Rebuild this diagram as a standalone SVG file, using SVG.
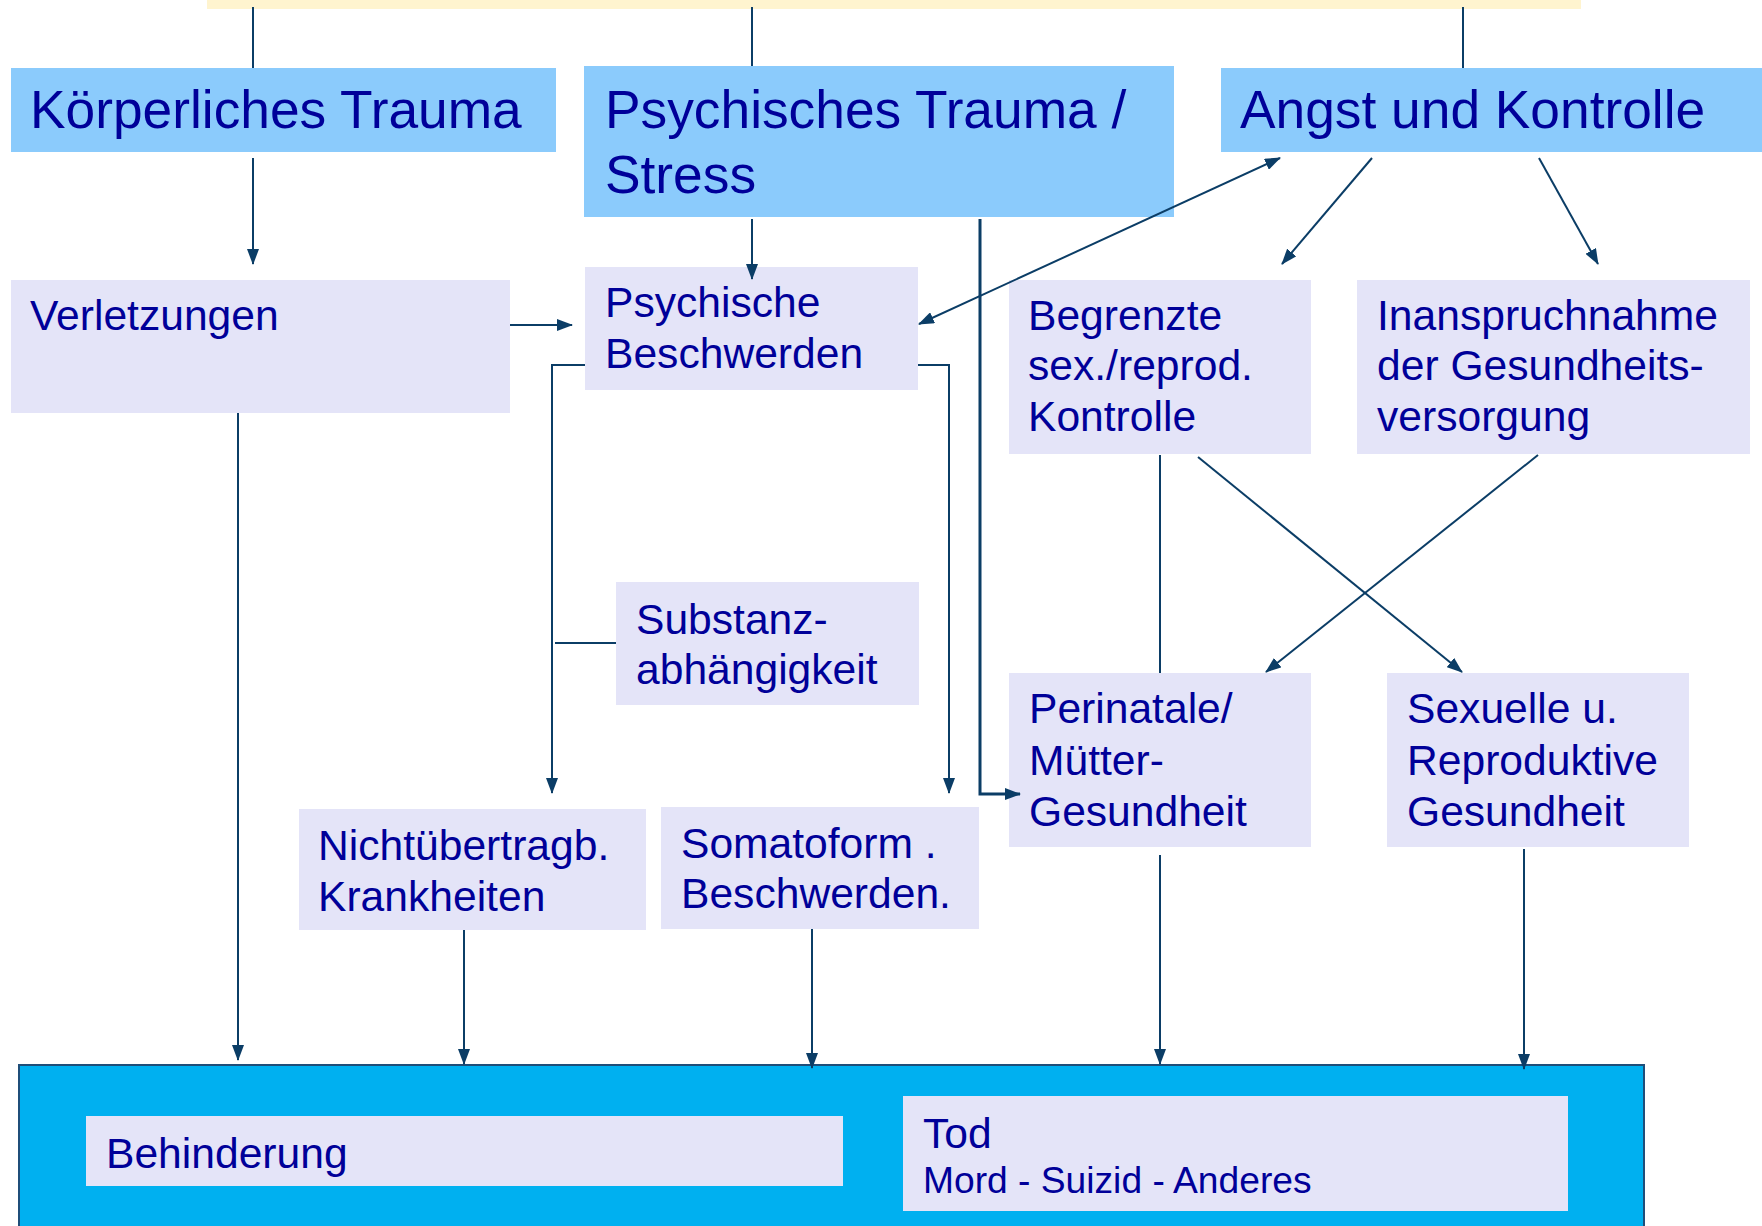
<svg xmlns="http://www.w3.org/2000/svg" width="1762" height="1226" viewBox="0 0 1762 1226">
<defs>
<marker id="ah" markerUnits="userSpaceOnUse" markerWidth="16" markerHeight="12" refX="15" refY="6" orient="auto-start-reverse">
<path d="M0,0 L16,6 L0,12 Z" fill="#0B3D66"/>
</marker>
</defs>
<style>
.head{fill:#8BCBFC}
.node{fill:#E4E4F8}
.t{font-family:"Liberation Sans",Arial,sans-serif;fill:#000099}
.h{font-size:53.3px}
.b{font-size:42.6px}
.s{font-size:37.2px}
.c{fill:none;stroke:#0B3D66;stroke-width:2}
.a{marker-end:url(#ah)}
</style>
<rect x="0" y="0" width="1762" height="1226" fill="#FFFFFF"/>
<rect id="topbar" x="207" y="0" width="1374" height="9" fill="#FFF4CF"/>

<g id="bottom">
<rect x="19" y="1065" width="1625" height="170" fill="#00B0F0" stroke="#1F4E79" stroke-width="2"/>
</g>
<g id="behinderung">
<rect class="node" x="86" y="1116" width="757" height="70"/>
<text class="t b" x="106" y="1168">Behinderung</text>
</g>
<g id="tod">
<rect class="node" x="903" y="1096" width="665" height="115"/>
<text class="t b" x="923" y="1148">Tod</text>
<text class="t s" x="923" y="1193">Mord - Suizid - Anderes</text>
</g>

<g id="koerperlich">
<rect class="head" x="11" y="68" width="545" height="84"/>
<text class="t h" x="30" y="128">Körperliches Trauma</text>
</g>
<g id="psychisch">
<rect class="head" x="584" y="66" width="590" height="151"/>
<text class="t h" x="605" y="128">Psychisches Trauma /</text>
<text class="t h" x="605" y="193">Stress</text>
</g>
<g id="angst">
<rect class="head" x="1221" y="68" width="541" height="84"/>
<text class="t h" x="1240" y="128">Angst und Kontrolle</text>
</g>

<g id="verletzungen">
<rect class="node" x="11" y="280" width="499" height="133"/>
<text class="t b" x="30" y="330">Verletzungen</text>
</g>
<g id="psychische">
<rect class="node" x="585" y="267" width="333" height="123"/>
<text class="t b" x="605" y="317">Psychische</text>
<text class="t b" x="605" y="368">Beschwerden</text>
</g>
<g id="begrenzte">
<rect class="node" x="1009" y="280" width="302" height="174"/>
<text class="t b" x="1028" y="330">Begrenzte</text>
<text class="t b" x="1028" y="380">sex./reprod.</text>
<text class="t b" x="1028" y="431">Kontrolle</text>
</g>
<g id="inanspruchnahme">
<rect class="node" x="1357" y="280" width="393" height="174"/>
<text class="t b" x="1377" y="330">Inanspruchnahme</text>
<text class="t b" x="1377" y="380">der Gesundheits-</text>
<text class="t b" x="1377" y="431">versorgung</text>
</g>
<g id="substanz">
<rect class="node" x="616" y="582" width="303" height="123"/>
<text class="t b" x="636" y="634">Substanz-</text>
<text class="t b" x="636" y="684">abhängigkeit</text>
</g>
<g id="perinatale">
<rect class="node" x="1009" y="673" width="302" height="174"/>
<text class="t b" x="1029" y="723">Perinatale/</text>
<text class="t b" x="1029" y="775">Mütter-</text>
<text class="t b" x="1029" y="826">Gesundheit</text>
</g>
<g id="sexuelle">
<rect class="node" x="1387" y="673" width="302" height="174"/>
<text class="t b" x="1407" y="723">Sexuelle u.</text>
<text class="t b" x="1407" y="775">Reproduktive</text>
<text class="t b" x="1407" y="826">Gesundheit</text>
</g>
<g id="nichtuebertragb">
<rect class="node" x="299" y="809" width="347" height="121"/>
<text class="t b" x="318" y="860">Nichtübertragb.</text>
<text class="t b" x="318" y="911">Krankheiten</text>
</g>
<g id="somatoform">
<rect class="node" x="661" y="807" width="318" height="122"/>
<text class="t b" x="681" y="858">Somatoform .</text>
<text class="t b" x="681" y="908">Beschwerden.</text>
</g>

<g id="connectors">
<line class="c" x1="253" y1="7" x2="253" y2="68"/>
<line class="c" x1="752" y1="7" x2="752" y2="66"/>
<line class="c" x1="1463" y1="7" x2="1463" y2="68"/>
<line class="c a" x1="253" y1="158" x2="253" y2="264"/>
<line class="c a" x1="752" y1="219" x2="752" y2="279"/>
<line class="c a" x1="510" y1="325" x2="572" y2="325"/>
<line class="c a" x1="919" y1="324" x2="1280" y2="158" style="marker-start:url(#ah)"/>
<line class="c a" x1="1372" y1="158" x2="1282" y2="264"/>
<line class="c a" x1="1539" y1="158" x2="1598" y2="264"/>
<polyline class="c a" points="585,365 552,365 552,793"/>
<polyline class="c a" points="918,365 949,365 949,793"/>
<line class="c" x1="555" y1="643" x2="616" y2="643"/>
<polyline class="c a" points="980,219 980,794 1020,794" style="stroke-width:3"/>
<line class="c" x1="1160" y1="455" x2="1160" y2="673"/>
<line class="c a" x1="1198" y1="457" x2="1462" y2="672"/>
<line class="c a" x1="1538" y1="455" x2="1266" y2="672"/>
<line class="c a" x1="238" y1="413" x2="238" y2="1060"/>
<line class="c a" x1="464" y1="930" x2="464" y2="1064"/>
<line class="c a" x1="812" y1="929" x2="812" y2="1068"/>
<line class="c a" x1="1160" y1="855" x2="1160" y2="1064"/>
<line class="c a" x1="1524" y1="849" x2="1524" y2="1069"/>
</g>
</svg>
